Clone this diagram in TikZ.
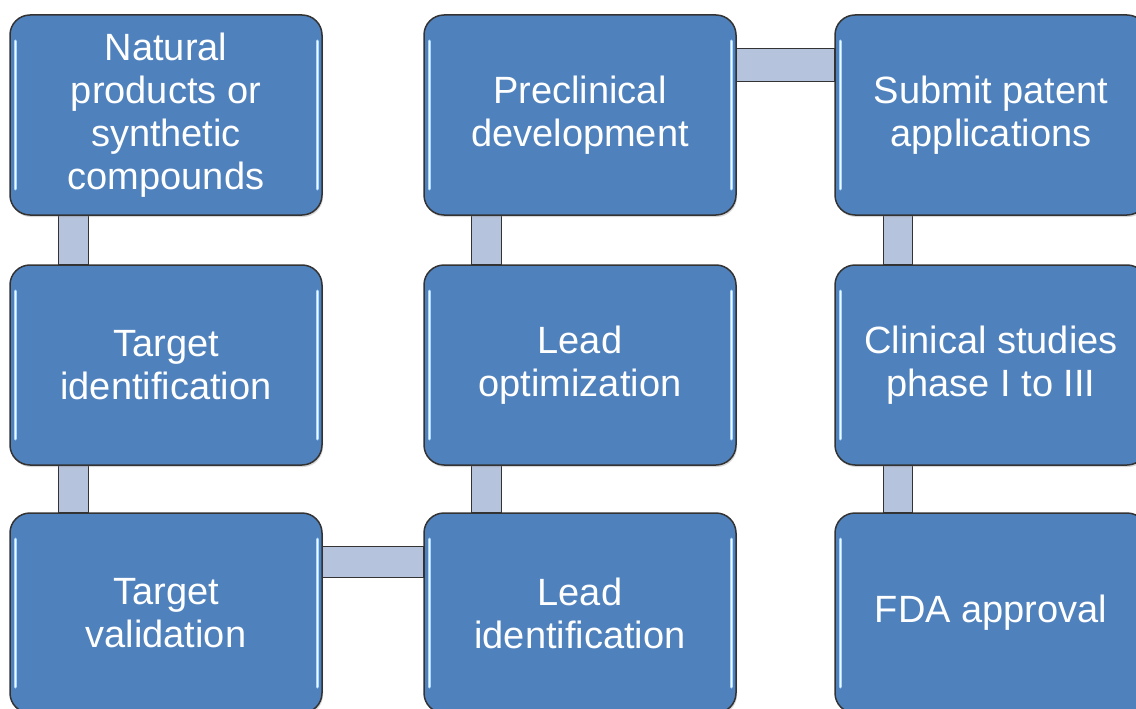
\documentclass[tikz,border=0pt]{standalone}
\usepackage{fontspec}
\setmainfont{Liberation Sans}
\usetikzlibrary{backgrounds, shadows}

\definecolor{stageblue}{RGB}{79,129,189}
\definecolor{linkblue}{RGB}{181,195,221}
\definecolor{glossblue}{RGB}{170,215,255}

\tikzset{
  stage/.style={draw=black!80, line width=1.5pt, fill=stageblue, rounded corners=20pt,
    minimum width=312pt, minimum height=200pt, text=white, align=center,
    font=\fontsize{38}{43}\selectfont,
    drop shadow={opacity=0.3, shadow xshift=1pt, shadow yshift=-2pt},
    path picture={
      \draw[gloss] ([shift={(5pt,-26pt)}]path picture bounding box.north west)
        -- ([shift={(5pt,26pt)}]path picture bounding box.south west);
      \draw[gloss] ([shift={(-5pt,-26pt)}]path picture bounding box.north east)
        -- ([shift={(-5pt,26pt)}]path picture bounding box.south east);
      \draw[glosscore] ([shift={(5pt,-26pt)}]path picture bounding box.north west)
        -- ([shift={(5pt,26pt)}]path picture bounding box.south west);
      \draw[glosscore] ([shift={(-5pt,-26pt)}]path picture bounding box.north east)
        -- ([shift={(-5pt,26pt)}]path picture bounding box.south east);
    }},
  gloss/.style={glossblue, line width=3pt, line cap=round},
  glosscore/.style={white!85!glossblue, line width=1pt, line cap=round},
  link/.style={draw=black!80, line width=1.2pt, fill=linkblue}
}

\begin{document}
\begin{tikzpicture}[x=1pt, y=-1pt]
  \useasboundingbox (0,0) rectangle (1136,709);

  % first column
  \node[stage] (nat) at (166,115) {Natural\\products or\\synthetic\\compounds};
  \node[stage] (tid) at (166,365) {Target\\identification};
  \node[stage] (tval) at (166,613) {Target\\validation};

  % second column
  \node[stage] (pre) at (580,115) {Preclinical\\development};
  \node[stage] (lopt) at (580,365) {Lead\\optimization};
  \node[stage] (lid) at (580,613) {Lead\\identification};

  % third column
  \node[stage] (pat) at (991,115) {Submit patent\\applications};
  \node[stage] (clin) at (991,365) {Clinical studies\\phase I to III};
  \node[stage] (fda) at (991,613) {FDA approval};

  % connecting bars, behind the boxes
  \begin{scope}[on background layer]
    \draw[link] ([xshift=49pt]nat.south west) rectangle ([xshift=79pt]tid.north west);
    \draw[link] ([xshift=49pt]tid.south west) rectangle ([xshift=79pt]tval.north west);
    \draw[link] ([yshift=-34pt]tval.north east) rectangle ([yshift=-65pt]lid.north west);
    \draw[link] ([xshift=48pt]lopt.south west) rectangle ([xshift=78pt]lid.north west);
    \draw[link] ([xshift=48pt]pre.south west) rectangle ([xshift=78pt]lopt.north west);
    \draw[link] ([yshift=-34pt]pre.north east) rectangle ([yshift=-67pt]pat.north west);
    \draw[link] ([xshift=49pt]pat.south west) rectangle ([xshift=78pt]clin.north west);
    \draw[link] ([xshift=49pt]clin.south west) rectangle ([xshift=78pt]fda.north west);
  \end{scope}
\end{tikzpicture}
\end{document}
